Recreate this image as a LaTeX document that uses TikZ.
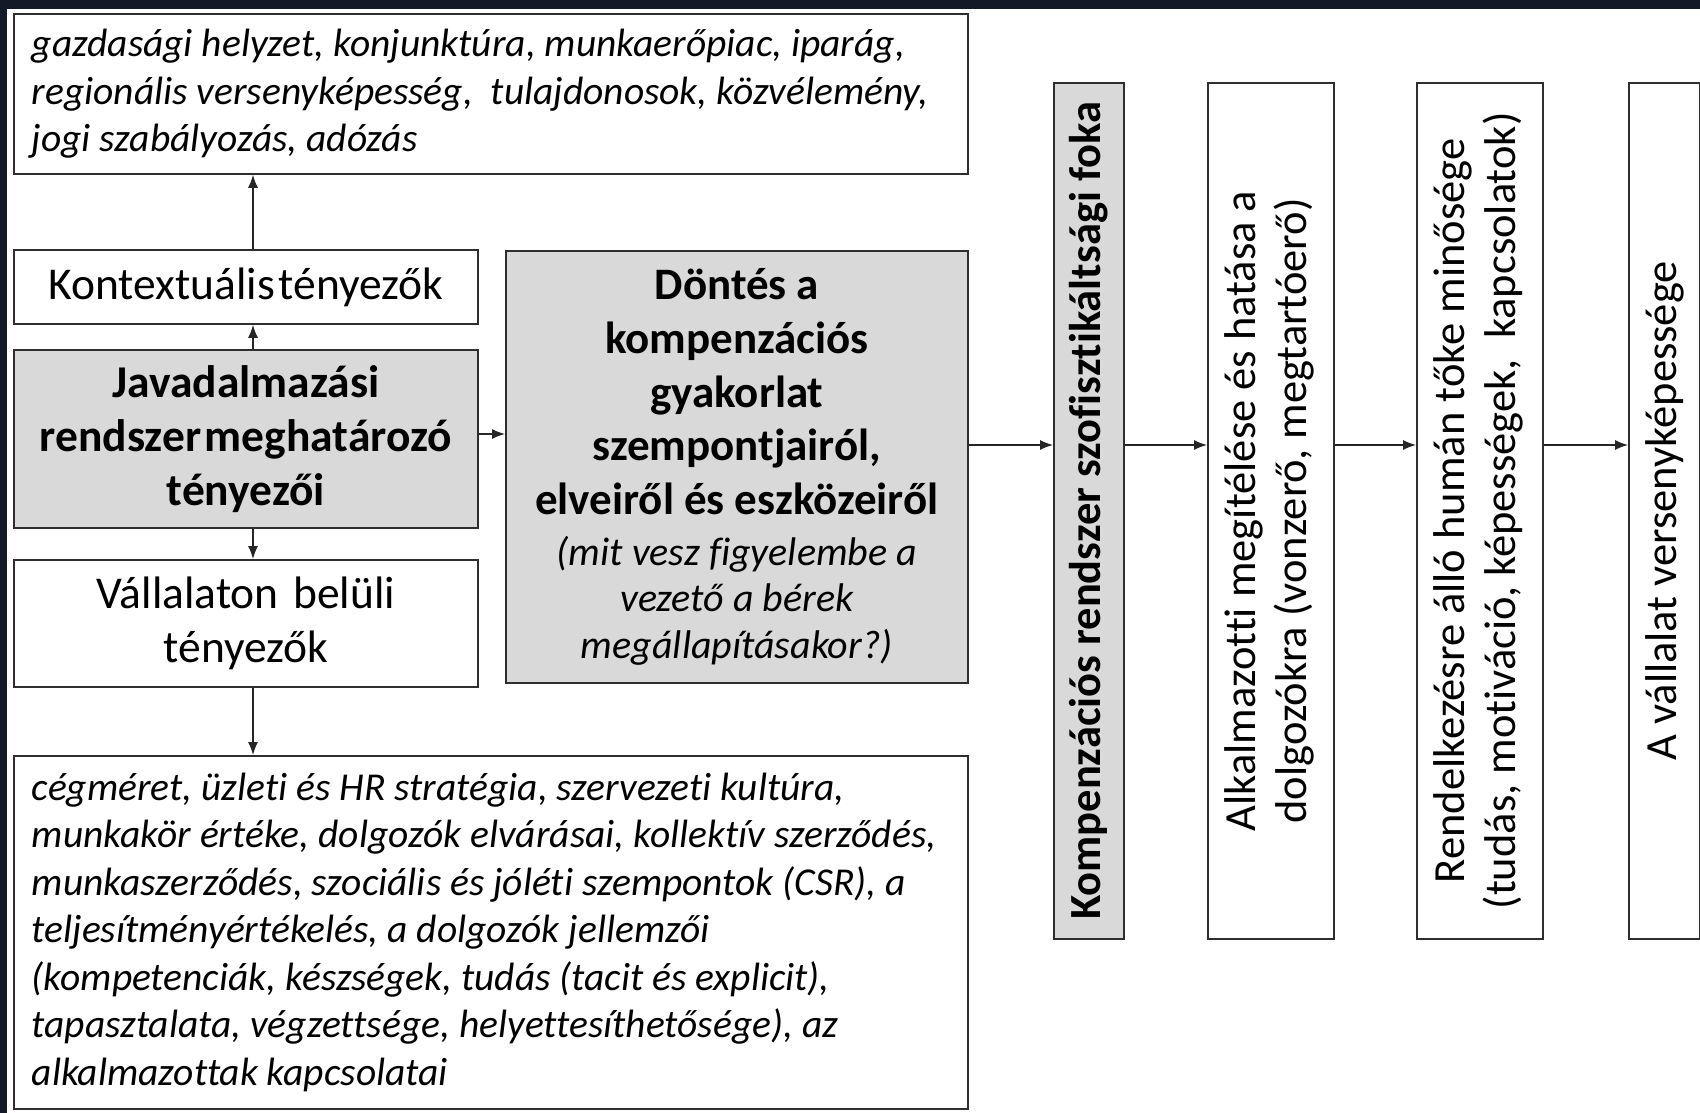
\documentclass[tikz,border=0pt]{standalone}
\usepackage{fontspec}
\setmainfont{Carlito}[Ligatures=NoCommon]
\usetikzlibrary{arrows.meta}
\definecolor{bgdark}{HTML}{131A27}
\definecolor{boxgray}{HTML}{D9D9D9}
\definecolor{edgecol}{HTML}{2E2E2E}
\newcommand\fixsp{\spaceskip=0pt\xspaceskip=0pt\parindent=0pt\hyphenpenalty=10000\relax}
\begin{document}
\begin{tikzpicture}[x=1pt,y=-1pt,
  box/.style={draw=edgecol, line width=1.8pt, inner sep=0pt, anchor=north west, fill=white},
  graybox/.style={box, fill=boxgray},
  itxt/.style={font=\fontsize{39.5}{47.5}\selectfont\itshape, align=left},
  regtxt/.style={font=\fontsize{45.5}{53.5}\selectfont, align=center},
  boldtxt/.style={font=\fontsize{45.5}{54}\selectfont\bfseries, align=center},
  vtxt/.style={font=\fontsize{44.5}{51}\selectfont},
  arr/.style={draw=black!85, line width=1.3pt, -{Latex[length=13pt,width=10pt]}}
]
\useasboundingbox (0,0) rectangle (1700,1113);
\fill[bgdark] (0,0) rectangle (1700,1113);
\fill[white] (7,9) rectangle (1700,1113);

% left column
\node[box, itxt, minimum width=954pt, minimum height=160pt, text width=918pt, inner xsep=18pt] (top) at (13,13)
  {\fixsp gazdasági helyzet, konjunktúra, munkaerőpiac, iparág,\\ regionális versenyképesség,\ \ tulajdonosok, közvélemény,\\ jogi szabályozás, adózás};
\node[box, regtxt, minimum width=464pt, minimum height=74pt, text width=456pt] (ctx) at (13,249)
  {\fixsp Kontextuális\hspace{0.08em}tényezők};
\node[graybox, boldtxt, minimum width=464pt, minimum height=178pt, text width=456pt] (jav) at (13,349)
  {\fixsp Javadalmazási\\ rendszer\hspace{0.08em}meghatározó\\ tényezői};
\node[box, regtxt, minimum width=464pt, minimum height=127pt, text width=456pt] (vall) at (13,559)
  {\fixsp Vállalaton belüli\\ tényezők};
\node[box, itxt, minimum width=954pt, minimum height=353pt, text width=918pt, inner xsep=18pt] (bot) at (13,755)
  {\fixsp cégméret, üzleti és HR stratégia, szervezeti kultúra,\\
   munkakör értéke, dolgozók elvárásai, kollektív szerződés,\\
   munkaszerződés, szociális és jóléti szempontok (CSR), a\\
   teljesítményértékelés, a dolgozók jellemzői\\
   (kompetenciák, készségek, tudás (tacit és explicit),\\
   tapasztalata, végzettsége, helyettesíthetősége), az\\
   alkalmazottak kapcsolatai};

% decision box
\node[graybox, minimum width=462pt, minimum height=432pt, text width=454pt, align=center] (dont) at (505,250)
  {\fixsp{\centering\fontsize{45}{53.7}\selectfont\bfseries Döntés a\\ kompenzációs\\ gyakorlat\\ szempontjairól,\\ elveiről és eszközeiről\par}
   {\vskip4pt\centering\fontsize{40}{46.6}\selectfont\itshape (mit vesz figyelembe a\\ vezető a bérek\\ megállapításakor?)\par}};

% vertical boxes
\node[graybox, vtxt, minimum width=70pt, minimum height=856pt] (komp) at (1053,82)
  {\rotatebox{90}{\bfseries Kompenzációs rendszer szofisztikáltsági foka}};
\node[box, vtxt, minimum width=126pt, minimum height=856pt] (alk) at (1207,82)
  {\rotatebox{90}{\begin{tabular}{@{}c@{}}Alkalmazotti megítélése és hatása a\\ dolgozókra (vonzerő, megtartóerő)\end{tabular}}};
\node[box, vtxt, minimum width=126pt, minimum height=856pt] (rend) at (1416,82)
  {\rotatebox{90}{\begin{tabular}{@{}c@{}}Rendelkezésre álló humán tőke minősége\\ (tudás, motiváció, képességek,\ \ kapcsolatok)\end{tabular}}};
\node[box, vtxt, minimum width=71pt, minimum height=856pt] (vall2) at (1628,82)
  {\rotatebox{90}{A vállalat versenyképessége}};

% connectors
\coordinate (vx) at (253,0);
\coordinate (hy) at (0,445);
\coordinate (jy) at (0,434);
\draw[arr] (vx |- ctx.north) -- (vx |- top.south);
\draw[arr] (vx |- jav.north) -- (vx |- ctx.south);
\draw[arr] (vx |- jav.south) -- (vx |- vall.north);
\draw[arr] (vx |- vall.south) -- (vx |- bot.north);
\draw[arr] (jav.east |- jy) -- (dont.west |- jy);
\draw[arr] (dont.east |- hy) -- (komp.west |- hy);
\draw[arr] (komp.east |- hy) -- (alk.west |- hy);
\draw[arr] (alk.east |- hy) -- (rend.west |- hy);
\draw[arr] (rend.east |- hy) -- (vall2.west |- hy);
\end{tikzpicture}
\end{document}
